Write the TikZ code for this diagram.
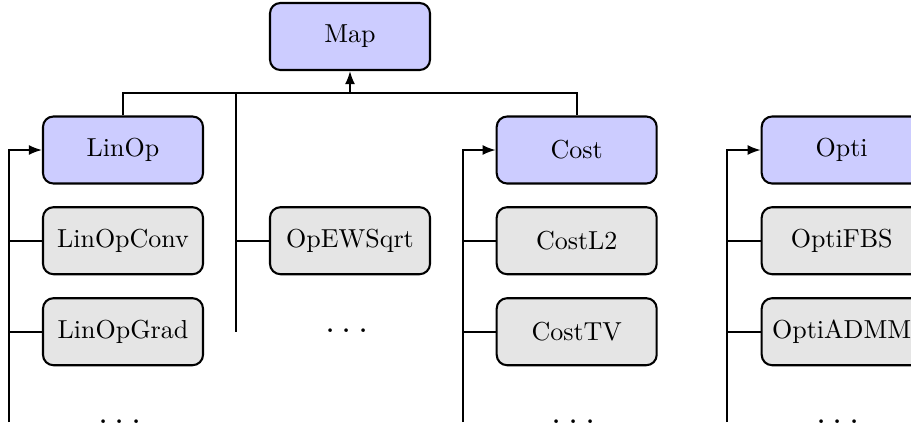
\documentclass[tikz,border=0pt]{standalone}
\usetikzlibrary{arrows.meta}
\newcommand{\mydots}{.\hspace{2.5pt}.\hspace{2.5pt}.}
\begin{document}
\begin{tikzpicture}[x=0.3846pt,y=-0.3846pt,
  box/.style={draw, line width=0.8pt, rounded corners=4pt, minimum width=160*0.3846pt, minimum height=67*0.3846pt, inner sep=0pt},
  base/.style={box, fill=blue!20},
  derived/.style={box, fill=gray!20},
  conn/.style={line width=0.65pt},
  arr/.style={conn, -{Latex[length=5pt,width=3.8pt]}},
  dotsn/.style={inner sep=0pt, anchor=base, font=\Large}]
\clip (0,0) rectangle (911,429);
\useasboundingbox (0,0) rectangle (911,429);
% nodes
\node[base] (map) at (350,36.5) {Map};
\node[base] (linop) at (123,150) {LinOp};
\node[derived] (conv) at (123,240.7) {LinOpConv};
\node[derived] (grad) at (123,331.7) {LinOpGrad};
\node[dotsn] (d1) at (120,423.2) {\mydots};
\node[derived] (opew) at (350,240.7) {OpEWSqrt};
\node[dotsn] (d2) at (347,332.2) {\mydots};
\node[base] (cost) at (576.7,150) {Cost};
\node[derived] (l2) at (576.7,240.7) {CostL2};
\node[derived] (tv) at (576.7,331.7) {CostTV};
\node[dotsn] (d3) at (573.5,423.2) {\mydots};
\node[base] (opti) at (841.7,150) {Opti};
\node[derived] (fbs) at (841.7,240.7) {OptiFBS};
\node[derived] (admm) at (841.7,331.7) {OptiADMM};
\node[dotsn] (d4) at (838,423.2) {\mydots};
% bus to Map
\coordinate (bl) at (123,93);
\coordinate (br) at (576.7,93);
\coordinate (bus) at (350,93);
\coordinate (mtop) at (236,93);
\coordinate (mbot) at (236,331.7);
\draw[conn] (linop.north) -- (bl) -- (br) -- (cost.north);
\draw[arr] (bus) -- (map.south);
\draw[conn] (mtop) -- (mbot);
\draw[conn] (opew.west -| mtop) -- (opew.west);
% left column
\coordinate (lb) at (9,422);
\draw[arr] (lb) |- (linop.west);
\draw[conn] (conv.west -| lb) -- (conv.west);
\draw[conn] (grad.west -| lb) -- (grad.west);
% cost column
\coordinate (cb) at (463.3,422);
\draw[arr] (cb) |- (cost.west);
\draw[conn] (l2.west -| cb) -- (l2.west);
\draw[conn] (tv.west -| cb) -- (tv.west);
% opti column
\coordinate (ob) at (727.3,422);
\draw[arr] (ob) |- (opti.west);
\draw[conn] (fbs.west -| ob) -- (fbs.west);
\draw[conn] (admm.west -| ob) -- (admm.west);
\end{tikzpicture}
\end{document}
